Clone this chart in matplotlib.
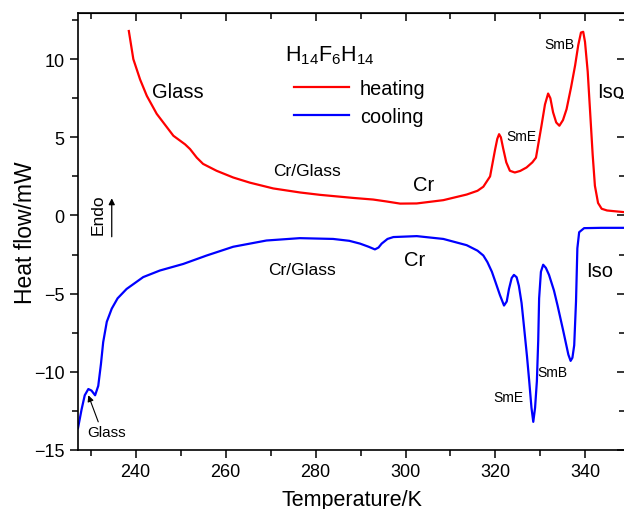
import numpy as np
import matplotlib
matplotlib.use('Agg')
import matplotlib.pyplot as plt
from matplotlib.ticker import MultipleLocator

plt.rcParams['font.family'] = ['Liberation Sans', 'DejaVu Sans']
plt.rcParams['mathtext.fontset'] = 'custom'
plt.rcParams['mathtext.rm'] = 'Liberation Sans'

# heating curve (red)
heat_T = [238.5, 239.5, 241.0, 242.5, 244.7, 248.4, 251.0, 252.1, 253.6, 255.0,
          258.0, 261.7, 265.4, 270.6, 276.6, 281.0, 284.0, 288.5, 292.8, 295.7,
          298.8, 302.5, 308.4, 313.6, 316.0, 317.3, 318.8, 319.9, 320.4, 320.8,
          321.2, 321.7, 322.4, 323.2, 324.3, 325.5, 326.9, 328.2, 329.0, 330.2,
          331.0, 331.7, 332.2, 332.8, 333.5, 334.2, 335.0, 335.8, 336.8, 337.7,
          338.4, 339.0, 339.5, 339.9, 340.5, 341.0, 341.6, 342.1, 342.8, 343.6,
          344.8, 346.2, 348.4, 349.5]
heat_Q = [11.8, 10.0, 8.7, 7.65, 6.5, 5.1, 4.55, 4.25, 3.7, 3.3,
          2.86, 2.43, 2.1, 1.73, 1.47, 1.32, 1.24, 1.12, 1.02, 0.9,
          0.76, 0.77, 0.98, 1.34, 1.58, 1.84, 2.5, 4.2, 4.9, 5.2,
          5.0, 4.3, 3.4, 2.86, 2.75, 2.85, 3.07, 3.4, 3.7, 5.7,
          7.1, 7.8, 7.5, 6.6, 5.95, 5.74, 6.1, 6.8, 8.2, 9.6,
          10.9, 11.7, 11.75, 11.1, 9.2, 6.8, 3.9, 1.9, 0.8, 0.43,
          0.32, 0.28, 0.22, 0.2]

# cooling curve (blue)
cool_T = [227.2, 228.0, 228.7, 229.5, 230.2, 231.0, 231.7, 232.3, 232.8, 233.6,
          234.7, 236.0, 238.0, 241.7, 245.4, 250.6, 255.8, 261.7, 269.1, 276.5,
          283.9, 287.5, 289.9, 291.8, 293.2, 294.0, 294.7, 296.0, 297.3, 302.5,
          308.4, 313.6, 316.0, 317.3, 318.2, 319.2, 320.0, 321.0, 321.9, 322.5,
          323.0, 323.6, 324.1, 324.7, 325.2, 325.8, 326.3, 327.0, 327.5, 328.0,
          328.4, 328.8, 329.2, 329.5, 329.7, 330.1, 330.6, 331.2, 331.9, 333.0,
          333.8, 335.0, 335.6, 336.2, 336.7, 337.1, 337.5, 337.9, 338.2, 338.6,
          339.7, 343.5, 349.5]
cool_Q = [-13.6, -12.4, -11.5, -11.1, -11.2, -11.5, -10.9, -9.5, -8.1, -6.8,
          -5.96, -5.3, -4.7, -3.94, -3.52, -3.1, -2.56, -2.0, -1.6, -1.45,
          -1.5, -1.62, -1.8, -2.0, -2.17, -2.05, -1.8, -1.5, -1.38, -1.32,
          -1.5, -1.9, -2.25, -2.56, -2.98, -3.6, -4.26, -5.1, -5.76, -5.5,
          -4.7, -4.0, -3.8, -3.95, -4.5, -5.6, -7.0, -9.0, -10.6, -12.3,
          -13.2, -12.3, -10.6, -8.0, -5.3, -3.6, -3.15, -3.35, -3.8, -4.8,
          -5.76, -7.3, -8.1, -8.9, -9.3, -9.1, -8.3, -5.5, -2.1, -1.07,
          -0.81, -0.79, -0.79]

fig = plt.figure(figsize=(6.24, 5.10), dpi=100)
ax = fig.add_axes([0.125, 0.1157, 0.8774, 0.8568])

ax.plot(heat_T, heat_Q, color='#ff0000', lw=1.6, label='heating')
ax.plot(cool_T, cool_Q, color='#0000ff', lw=1.6, label='cooling')

ax.set_xlim(227.2, 348.9)
ax.set_ylim(-15, 12.95)
ax.xaxis.set_major_locator(MultipleLocator(20))
ax.xaxis.set_minor_locator(MultipleLocator(10))
ax.yaxis.set_major_locator(MultipleLocator(5))
ax.yaxis.set_minor_locator(MultipleLocator(2.5))
ax.tick_params(which='major', direction='out', length=6, width=1.1, labelsize=13)
ax.tick_params(which='minor', direction='out', length=4, width=1.1)
for s in ax.spines.values():
    s.set_linewidth(1.2)

# top and right axes with inward ticks, no labels
top = ax.secondary_xaxis('top')
top.xaxis.set_major_locator(MultipleLocator(20))
top.xaxis.set_minor_locator(MultipleLocator(10))
top.tick_params(which='major', direction='in', length=6, width=1.1, labeltop=False)
top.tick_params(which='minor', direction='in', length=4, width=1.1)
right = ax.secondary_yaxis('right')
right.yaxis.set_major_locator(MultipleLocator(5))
right.yaxis.set_minor_locator(MultipleLocator(2.5))
right.tick_params(which='major', direction='in', length=6, width=1.1, labelright=False)
right.tick_params(which='minor', direction='in', length=4, width=1.1)

ax.set_xlabel('Temperature/K', fontsize=15.5, labelpad=6)
ax.set_ylabel('Heat flow/mW', fontsize=16.5, labelpad=-2)

# legend with the compound name above it
ax.text(0.3782, 0.905, r'H$_{14}$F$_6$H$_{14}$', transform=ax.transAxes,
        fontsize=15.5, ha='left', va='center')
ax.legend(loc='upper left', bbox_to_anchor=(0.395, 0.85), frameon=False,
          fontsize=14.3, handlelength=2.75, handletextpad=0.55,
          labelspacing=0.45, borderaxespad=0, borderpad=0)

# phase labels
ax.text(249.4, 7.95, 'Glass', fontsize=14.5, ha='center', va='center')
ax.text(278.1, 2.85, 'Cr/Glass', fontsize=12.5, ha='center', va='center')
ax.text(304.0, 2.0, 'Cr', fontsize=14.5, ha='center', va='center')
ax.text(325.7, 5.1, 'SmE', fontsize=10, ha='center', va='center')
ax.text(334.2, 10.96, 'SmB', fontsize=10, ha='center', va='center')
ax.text(345.5, 7.95, 'Iso', fontsize=14.5, ha='center', va='center')

ax.text(277.0, -3.45, 'Cr/Glass', fontsize=12.5, ha='center', va='center')
ax.text(302.0, -2.8, 'Cr', fontsize=14.5, ha='center', va='center')
ax.text(343.2, -3.5, 'Iso', fontsize=14.5, ha='center', va='center')
ax.text(332.7, -10.0, 'SmB', fontsize=10, ha='center', va='center')
ax.text(322.8, -11.6, 'SmE', fontsize=10, ha='center', va='center')
ax.text(233.6, -13.85, 'Glass', fontsize=11, ha='center', va='center')
ax.annotate('', xy=(229.5, -11.5), xytext=(231.7, -13.2),
            arrowprops=dict(arrowstyle='-|>', color='black', lw=0.8,
                            mutation_scale=9, shrinkA=0, shrinkB=0))

ax.text(231.6, 0.1, 'Endo', fontsize=12.5, rotation=90, ha='center', va='center')
ax.annotate('', xy=(234.7, 1.1), xytext=(234.7, -1.36),
            arrowprops=dict(arrowstyle='-|>', color='black', lw=0.9,
                            mutation_scale=9, shrinkA=0, shrinkB=0))

fig.savefig('out.png', dpi=100)
